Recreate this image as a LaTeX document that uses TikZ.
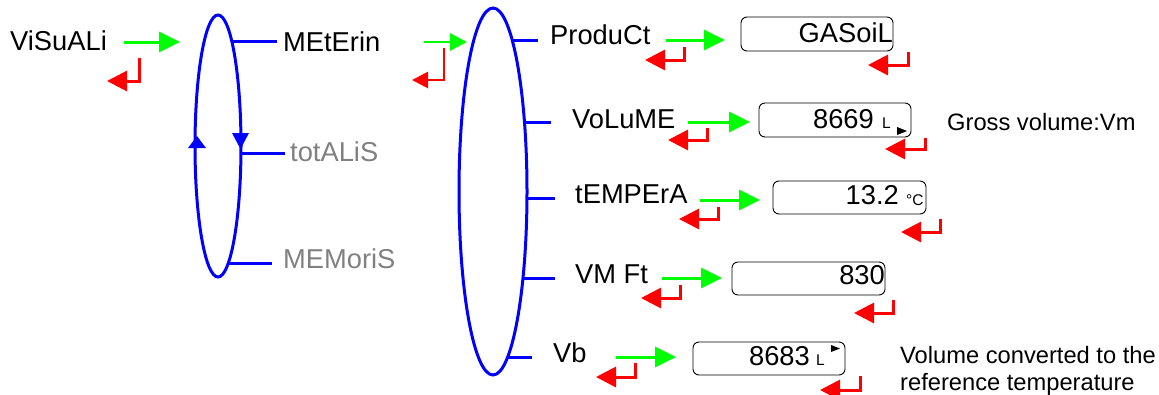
\documentclass[tikz,border=0pt]{standalone}
\usepackage{fontspec}
\setmainfont{Liberation Sans}
\usetikzlibrary{arrows.meta}
\begin{document}
\begin{tikzpicture}[x=1pt,y=-1pt,
  ell/.style={draw=blue, line width=3pt},
  branch/.style={draw=blue, line width=3pt},
  garrow/.style={draw=green, line width=3pt, -{Triangle[length=21pt,width=20pt]}},
  gsmall/.style={draw=green, line width=2.8pt, -{Triangle[length=17pt,width=17pt]}},
  rarrow/.style={draw=red, line width=3pt, -{Triangle[length=20pt,width=20pt]}},
  rsmall/.style={draw=red, line width=2.8pt, -{Triangle[length=16pt,width=16pt]}},
  lab/.style={anchor=base west, inner sep=0pt, font=\fontsize{27.3}{32}\selectfont},
  sub/.style={lab, text=gray},
  val/.style={anchor=base east, inner sep=0pt, font=\fontsize{27.3}{32}\selectfont},
  unit/.style={anchor=base west, inner sep=0pt, font=\fontsize{15.5}{18}\selectfont},
  note/.style={anchor=base west, inner sep=0pt, font=\fontsize{23.7}{28}\selectfont},
  dbox/.style={draw=black, line width=0.9pt, rounded corners=6pt, minimum width=152pt, minimum height=34pt, inner sep=0pt},
  tipmark/.style={fill=black},
]
\useasboundingbox (0,0) rectangle (1159,394);

% ---------- ellipses ----------
\coordinate (e1) at (218,146);
\coordinate (e2) at (493,191.5);
\draw[ell] (e1) ellipse [x radius=23pt, y radius=131pt];
\draw[ell] (e2) ellipse [x radius=34pt, y radius=183.5pt];
\fill[blue] (188,148) -- (206,148) -- (197,136) -- cycle;
\fill[blue] (232,133) -- (249,133) -- (240.5,149) -- cycle;

% ---------- labels ----------
\node[lab] (visu) at (10,50) {ViSuALi};
\node[lab] (met) at (283,51) {MEtErin};
\node[sub] (tot) at (290,161) {totALiS};
\node[sub] (mem) at (283,268) {MEMoriS};
\node[lab] (prod) at (550,44) {ProduCt};
\node[lab] (vol) at (572,128) {VoLuME};
\node[lab] (temp) at (575,203) {tEMPErA};
\node[lab] (vmft) at (575,283) {VM Ft};
\node[lab] (vb) at (553,362) {Vb};

% ---------- branches ----------
\coordinate (s1) at (231.8,41);  \coordinate (t1) at (277,41);
\coordinate (s2) at (241,153);   \coordinate (t2) at (285,153);
\coordinate (s3) at (228.5,263); \coordinate (t3) at (272,263);
\coordinate (s4) at (512,40);    \coordinate (t4) at (538,40);
\coordinate (s5) at (524.5,122); \coordinate (t5) at (551,122);
\coordinate (s6) at (527,198);   \coordinate (t6) at (555,198);
\coordinate (s7) at (523,278);   \coordinate (t7) at (555,278);
\coordinate (s8) at (507.7,357); \coordinate (t8) at (532,357);
\foreach \i in {1,...,8} {\draw[branch] (s\i) -- (t\i);}

% ---------- display boxes ----------
\node[dbox] (b1) at (817,34) {};
\node[dbox] (b2) at (835,120) {};
\node[dbox, minimum width=153pt, minimum height=33pt] (b3) at (849.5,197.5) {};
\node[dbox, minimum width=153pt, minimum height=33pt] (b4) at (808.5,278.5) {};
\node[dbox, minimum height=33pt] (b5) at (769,358.5) {};

\node[val] (v1) at (893,42) {GASoiL};
\node[val] (v2) at (874,128) {8669};
\node[unit] (u2) at (882,128) {L};
\fill[tipmark] (897,127) -- (907,131) -- (897,135) -- cycle;
\node[val] (v3) at (899,204) {13.2};
\node[unit] (u3) at (906,205) {°C};
\node[val] (v4) at (885,284) {830};
\node[val] (v5) at (810,365) {8683};
\node[unit] (u5) at (816,365) {L};
\fill[tipmark] (831,345) -- (840,348.5) -- (831,352) -- cycle;

% ---------- notes ----------
\node[note] (n1) at (947,130) {Gross volume:Vm};
\node[note] (n2) at (900,363) {Volume converted to the};
\node[note] (n3) at (900,390) {reference temperature};

% ---------- green arrows ----------
\coordinate (ga1) at (124,42);  \coordinate (gb1) at (180,42);
\coordinate (ga2) at (424,42);  \coordinate (gb2) at (467,42);
\coordinate (ga3) at (666,40);  \coordinate (gb3) at (725,40);
\coordinate (ga4) at (688,122); \coordinate (gb4) at (750,122);
\coordinate (ga5) at (700,200); \coordinate (gb5) at (760,200);
\coordinate (ga6) at (662,278); \coordinate (gb6) at (722,278);
\coordinate (ga7) at (616,357); \coordinate (gb7) at (676,357);
\foreach \i in {1,3,4,5,6,7} {\draw[garrow] (ga\i) -- (gb\i);}
\draw[gsmall] (ga2) -- (gb2);

% ---------- red return arrows ----------
\coordinate (ra1) at (139,58);  \coordinate (rb1) at (107,81);
\coordinate (ra2) at (444,48);  \coordinate (rb2) at (412,80);
\coordinate (ra3) at (684,47);  \coordinate (rb3) at (645,60);
\coordinate (ra4) at (908,52);  \coordinate (rb4) at (868,65);
\coordinate (ra5) at (707,128); \coordinate (rb5) at (668,140);
\coordinate (ra6) at (925,138); \coordinate (rb6) at (885,149);
\coordinate (ra7) at (718,207); \coordinate (rb7) at (679,219);
\coordinate (ra8) at (940,219); \coordinate (rb8) at (901,232);
\coordinate (ra9) at (680,285); \coordinate (rb9) at (641,298);
\coordinate (ra10) at (893,300); \coordinate (rb10) at (854,313);
\coordinate (ra11) at (635,363); \coordinate (rb11) at (596,377);
\coordinate (ra12) at (860,376); \coordinate (rb12) at (820,390);
\foreach \i in {1,3,4,5,6,7,8,9,10,11,12} {\draw[rarrow] (ra\i) |- (rb\i);}
\draw[rsmall] (ra2) |- (rb2);
\end{tikzpicture}
\end{document}
